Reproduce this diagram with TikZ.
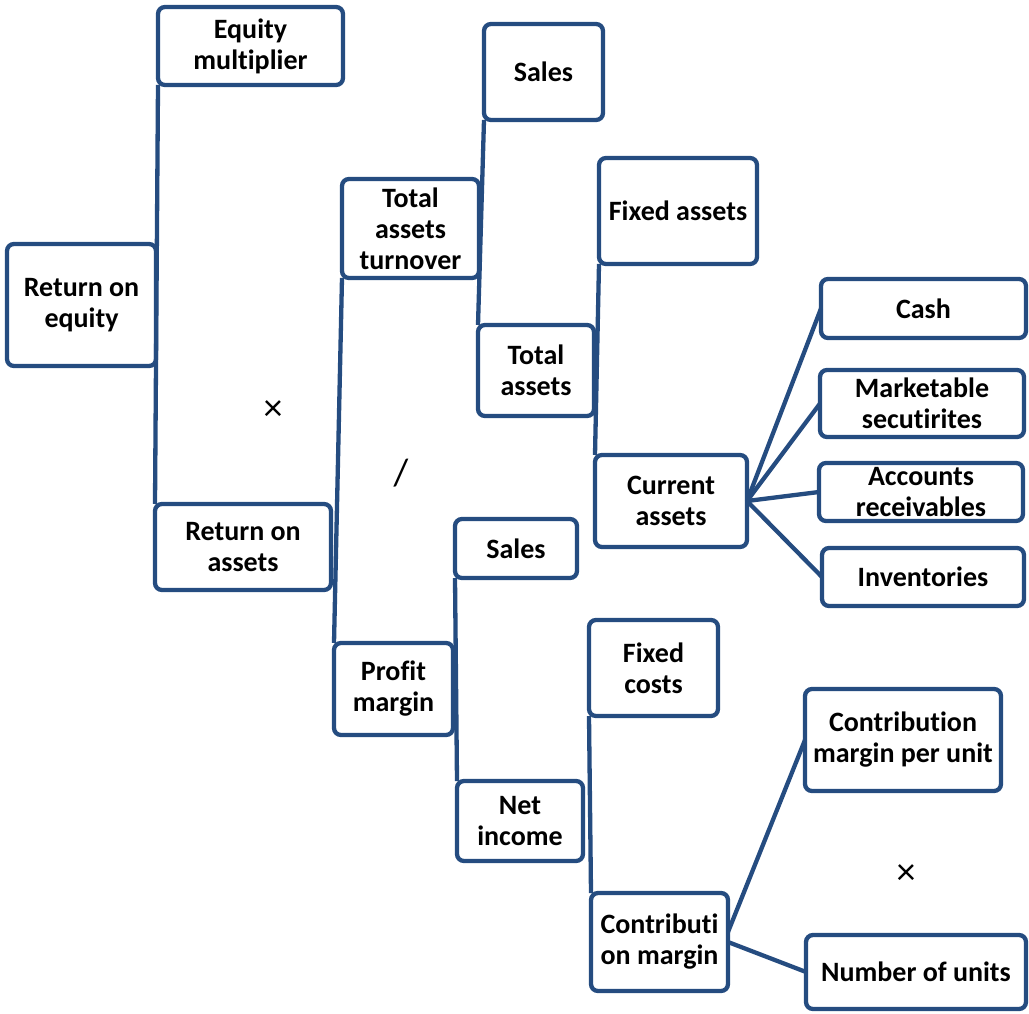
\documentclass[tikz,border=0pt]{standalone}
\usepackage{fontspec}
\setmainfont{Carlito}[Ligatures=NoCommon]
\definecolor{boxblue}{RGB}{37,76,128}
\begin{document}
\begin{tikzpicture}[x=1pt,y=-1pt,
  box/.style={draw=boxblue, line width=4.3pt, rounded corners=7pt, fill=white,
    align=center, inner sep=0pt, outer sep=0pt, font=\fontsize{28}{31}\selectfont\bfseries},
  conn/.style={draw=boxblue, line width=4.3pt},
  op/.style={font=\fontsize{38}{40}\selectfont, inner sep=0pt}]
\useasboundingbox (0,0) rectangle (1029,1014);
% boxes
\node[box, minimum width=149pt, minimum height=122pt] (roe) at (81.5,305) {Return on\\equity};
\node[box, minimum width=185pt, minimum height=78pt] (em) at (250.5,46) {Equity\\multiplier};
\node[box, minimum width=176pt, minimum height=86pt] (roa) at (243,547) {Return on\\assets};
\node[box, minimum width=137pt, minimum height=99pt] (tat) at (410.5,228.5) {Total\\assets\\turnover};
\node[box, minimum width=119pt, minimum height=92pt] (pm) at (393.5,689) {Profit\\margin};
\node[box, minimum width=119pt, minimum height=96pt] (sales1) at (543.5,72) {Sales};
\node[box, minimum width=116pt, minimum height=91pt] (ta) at (536,370.5) {Total\\assets};
\node[box, minimum width=158pt, minimum height=106pt] (fa) at (678,211) {Fixed assets};
\node[box, minimum width=152pt, minimum height=92pt] (ca) at (671,501) {Current\\assets};
\node[box, minimum width=205pt, minimum height=59pt] (cash) at (923.5,308.5) {Cash};
\node[box, minimum width=204pt, minimum height=67pt] (ms) at (922,403.5) {Marketable\\secutirites};
\node[box, minimum width=204pt, minimum height=58pt] (ar) at (921,492) {Accounts\\receivables};
\node[box, minimum width=202pt, minimum height=58pt] (inv) at (923,577) {Inventories};
\node[box, minimum width=122pt, minimum height=59pt] (sales2) at (516,548.5) {Sales};
\node[box, minimum width=129pt, minimum height=96pt] (fc) at (653.5,668) {Fixed\\costs};
\node[box, minimum width=126pt, minimum height=80pt] (ni) at (520,821) {Net\\income};
\node[box, minimum width=137pt, minimum height=98pt] (cm) at (659.5,942) {Contributi\\on margin};
\node[box, minimum width=196pt, minimum height=102pt] (cmpu) at (903,740) {Contribution\\margin per unit};
\node[box, minimum width=220pt, minimum height=74pt] (nou) at (916,972) {Number of units};
% operators
\node[op] (x1) at (273,411) {×};
\node[op] (div) at (401,473) {/};
\node[op] (x2) at (906,875) {×};
% connectors
\draw[conn] (em.south west) -- (roa.north west);
\draw[conn] (sales1.south west) -- (ta.north west);
\draw[conn] (tat.south west) -- (pm.north west);
\draw[conn] (fa.south west) -- (ca.north west);
\draw[conn] (sales2.south west) -- (ni.north west);
\draw[conn] (fc.south west) -- (cm.north west);
\draw[conn] (ca.east) -- (cash.west);
\draw[conn] (ca.east) -- (ms.west);
\draw[conn] (ca.east) -- (ar.west);
\draw[conn] (ca.east) -- (inv.west);
\draw[conn] ([yshift=10pt]cm.east) -- (cmpu.west);
\draw[conn] (cm.east) -- (nou.west);
\end{tikzpicture}
\end{document}
